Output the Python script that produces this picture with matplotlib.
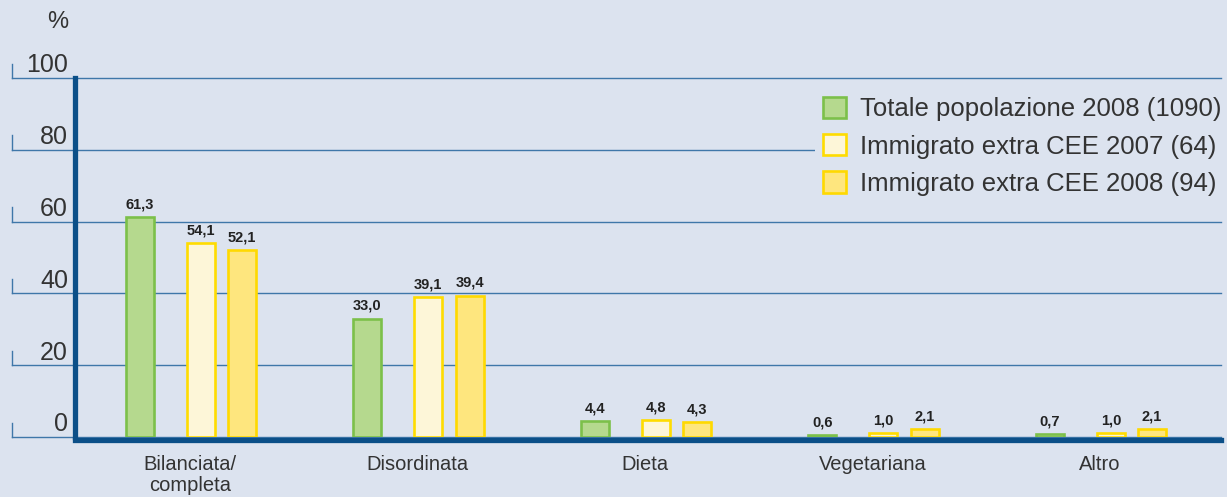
import matplotlib
matplotlib.use("Agg")
import matplotlib.pyplot as plt
from matplotlib.transforms import blended_transform_factory, offset_copy
import numpy as np

# data
categories = ["Bilanciata/\ncompleta", "Disordinata", "Dieta", "Vegetariana", "Altro"]
series_names = ["Totale popolazione 2008 (1090)",
                "Immigrato extra CEE 2007 (64)",
                "Immigrato extra CEE 2008 (94)"]
totale_2008 = [61.3, 33.0, 4.4, 0.6, 0.7]
immigrati_2007 = [54.1, 39.1, 4.8, 1.0, 1.0]
immigrati_2008 = [52.1, 39.4, 4.3, 2.1, 2.1]
y_ticks = [0, 20, 40, 60, 80, 100]

# styling
bg = "#dce3ef"
axis_blue = "#0b4f88"
grid_blue = "#3f77a9"
faces = ["#b5d98e", "#fdf6d8", "#fee67e"]
edges = ["#7cc04a", "#ffdc00", "#ffd900"]
offsets = [-0.22, 0.048, 0.229]
bar_w = 0.123

plt.rcParams["font.family"] = ["Liberation Sans", "DejaVu Sans"]

W, H = 1227, 497
fig = plt.figure(figsize=(W / 100, H / 100), dpi=100, facecolor=bg)
ax = fig.add_axes([75 / W, 60 / H, (1221 - 75) / W, 359 / H])
ax.set_facecolor("none")

# spines first (moving a spine resets the tick labels)
for side in ["top", "right"]:
    ax.spines[side].set_visible(False)
for side in ["left", "bottom"]:
    ax.spines[side].set_linewidth(3.8)
    ax.spines[side].set_color(axis_blue)
    ax.spines[side].set_zorder(3)
ax.spines["bottom"].set_position(("outward", 2))

x = np.arange(len(categories))
all_series = [totale_2008, immigrati_2007, immigrati_2008]
for i, vals in enumerate(all_series):
    bars = ax.bar(x + offsets[i], vals, width=bar_w, color=faces[i],
                  edgecolor=edges[i], linewidth=1.9, zorder=4,
                  label=series_names[i])
    for b, v in zip(bars, vals):
        ax.annotate(f"{v:.1f}".replace(".", ","),
                    (b.get_x() + b.get_width() / 2, b.get_height()),
                    xytext=(0, 4), textcoords="offset points",
                    ha="center", va="bottom", fontsize=10.5,
                    fontweight="bold", color="#222222")

ax.set_xlim(-0.505, (1221 - 190) / 227.5)
ax.set_ylim(0, 100)

# gridlines reach out to the left of the y axis
trans = blended_transform_factory(fig.transFigure, ax.transData)
for t in y_ticks:
    ax.plot([12 / W, 1221 / W], [t, t], transform=trans, color=grid_blue,
            linewidth=1.0, clip_on=False, zorder=0.5)
    ax.plot([12 / W, 12 / W], [t, t + 4], transform=trans, color=grid_blue,
            linewidth=1.0, clip_on=False, zorder=0.5)
    lab_trans = offset_copy(trans, fig=fig, x=0, y=4, units="points")
    ax.text(68 / W, t, str(t), transform=lab_trans, ha="right",
            va="baseline", fontsize=18, color="#333333")

fig.text(58 / W, 1 - 22 / H, "%", ha="center", va="center",
         fontsize=17, color="#333333")

ax.set_yticks([])
ax.set_xticks(x)
ax.set_xticklabels(categories, fontsize=14.5, color="#333333", linespacing=1.15)
ax.tick_params(axis="x", length=0, pad=11)

leg = ax.legend(loc="upper left", bbox_to_anchor=(815 / W, 1 - 89 / H),
                bbox_transform=fig.transFigure, fontsize=18.5, frameon=True,
                facecolor=bg, edgecolor="none", framealpha=1.0,
                handlelength=0.9, handleheight=0.9, handletextpad=0.55,
                labelspacing=0.5, borderpad=0.3, borderaxespad=0)
for txt in leg.get_texts():
    txt.set_color("#333333")
leg.set_zorder(5)

fig.savefig("out.png", dpi=100, facecolor=bg)
